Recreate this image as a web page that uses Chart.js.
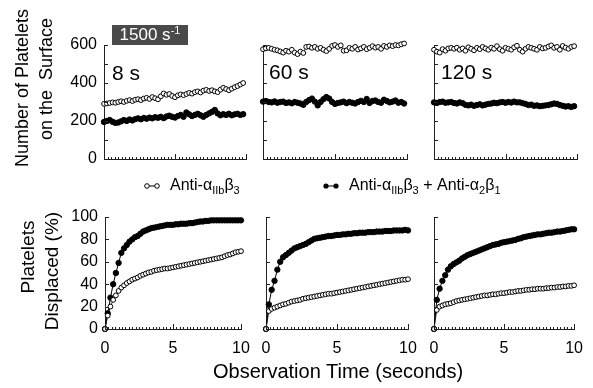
<!DOCTYPE html>
<html>
<head>
<meta charset="utf-8">
<script src="https://cdn.jsdelivr.net/npm/chart.js@4.4.0/dist/chart.umd.min.js"></script>
<style>
  html, body { margin: 0; padding: 0; background: #fff; }
  #page { position: relative; width: 593px; height: 388px; overflow: hidden; font-family: "Liberation Sans", Arial, sans-serif; color: #000; }
  #page canvas { position: absolute; left: 0; top: 0; }
  .txt { position: absolute; white-space: nowrap; z-index: 5; }
  .vt { position: absolute; white-space: nowrap; transform: translate(-50%, -50%) rotate(-90deg); z-index: 5; }
  .shear { position: absolute; left: 112px; top: 25px; width: 76px; height: 20px; background: #4a4a4a; color: #fff; font-size: 17px; line-height: 20px; text-align: center; z-index: 5; }
  .shear sup { font-size: 11px; vertical-align: 6px; line-height: 0; }
  .leg sub { font-size: 11px; vertical-align: -4px; line-height: 0; }
</style>
</head>
<body>
<div id="page">
  <canvas id="tl" width="593" height="388"></canvas>
  <canvas id="tm" width="593" height="388"></canvas>
  <canvas id="tr" width="593" height="388"></canvas>
  <canvas id="bl" width="593" height="388"></canvas>
  <canvas id="bm" width="593" height="388"></canvas>
  <canvas id="br" width="593" height="388"></canvas>

  <div class="shear">1500 s<sup>-1</sup></div>
  <div class="txt" style="left:112px; top:61px; font-size:21px;">8 s</div>
  <div class="txt" style="left:269px; top:60px; font-size:21px;">60 s</div>
  <div class="txt" style="left:441px; top:60px; font-size:21px;">120 s</div>

  <div class="vt" style="left:22px; top:88px; font-size:18px;">Number of Platelets</div>
  <div class="vt" style="left:46px; top:79px; font-size:18px;">on the&nbsp; Surface</div>
  <div class="vt" style="left:28px; top:257px; font-size:19px;">Platelets</div>
  <div class="vt" style="left:52px; top:271px; font-size:19px;">Displaced (%)</div>

  <div class="txt leg" style="left:144px; top:176px; font-size:16px;">
    <svg width="16" height="8" style="vertical-align:middle; margin-right:10px;"><line x1="3" y1="4" x2="13" y2="4" stroke="#000" stroke-width="1"/><circle cx="3" cy="4" r="2.3" fill="#fff" stroke="#000"/><circle cx="13" cy="4" r="2.3" fill="#fff" stroke="#000"/></svg>Anti-&alpha;<sub>IIb</sub>&beta;<sub>3</sub>
  </div>
  <div class="txt leg" style="left:323px; top:176px; font-size:16px;">
    <svg width="16" height="8" style="vertical-align:middle; margin-right:10px;"><line x1="3" y1="4" x2="13" y2="4" stroke="#000" stroke-width="1"/><circle cx="3" cy="4" r="2.6" fill="#000"/><circle cx="13" cy="4" r="2.6" fill="#000"/></svg>Anti-&alpha;<sub>IIb</sub>&beta;<sub>3</sub> + Anti-&alpha;<sub>2</sub>&beta;<sub>1</sub>
  </div>

  <div class="txt" style="left:338px; top:360px; font-size:20px; transform:translateX(-50%);">Observation Time (seconds)</div>
</div>

<script>
// time points (s) of the surface-count traces, upper row
const surfTimes = [0,0.2,0.4,0.6,0.8,1,1.2,1.4,1.6,1.8,2,2.2,2.4,2.6,2.8,3,3.2,3.4,3.6,3.8,
  4,4.2,4.4,4.6,4.8,5,5.2,5.4,5.6,5.8,6,6.2,6.4,6.6,6.8,7,7.2,7.4,7.6,7.8,
  8,8.2,8.4,8.6,8.8,9,9.2,9.4,9.6,9.8];

// number of platelets on the surface
const surf8Open = [290,292,295,298,296,300,304,300,306,310, 305,312,315,310,318,322,316,326,320,314,
  330,345,338,342,332,325,335,340,336,342, 348,344,352,356,350,360,364,358,362,356,
  352,365,375,368,362,370,378,384,392,400];
const surf8Filled = [195,200,205,196,190,192,198,205,200,208, 203,210,214,209,216,212,218,214,220,217,
  222,215,224,228,222,218,226,232,222,245, 235,226,232,238,230,222,232,240,248,258,
  240,230,236,232,238,230,235,238,232,236];
const surf60Open = [578,582,585,580,575,572,566,560,570,565, 575,560,552,565,558,590,592,585,590,580,
  585,575,568,580,595,600,590,598,570,572, 585,580,590,576,582,590,578,585,594,586,
  590,580,595,590,598,594,600,598,604,608];
const surf60Filled = [302,305,300,298,303,296,300,302,295,298, 293,300,296,292,285,300,310,318,302,282,
  300,315,326,318,300,290,295,298,302,294, 300,296,292,300,306,300,316,295,305,308,
  300,296,312,305,298,302,308,296,300,292];
const surf120Open = [575,565,560,578,570,582,585,580,586,575, 582,570,588,580,572,585,578,590,582,575,
  586,580,594,578,570,585,580,575,588,596, 575,565,580,590,585,580,575,590,582,585,
  592,598,585,590,575,595,586,580,590,594];
const surf120Filled = [298,295,300,302,296,298,300,295,292,298, 294,285,282,286,280,284,288,282,286,290,
  292,296,294,298,300,296,300,297,302,298, 298,294,290,284,286,280,282,278,280,282,
  284,288,292,290,284,280,276,278,274,278];

// time points (s) of the displacement traces, lower row
const dispTimes = [0,0.2,0.4,0.6,0.8,1,1.2,1.4,1.6,1.8,2,2.2,2.4,2.6,2.8,3,3.2,3.4,3.6,3.8,
  4,4.2,4.4,4.6,4.8,5,5.2,5.4,5.6,5.8,6,6.2,6.4,6.6,6.8,7,7.2,7.4,7.6,7.8,
  8,8.2,8.4,8.6,8.8,9,9.2,9.4,9.6,9.8,10];

// platelets displaced (%)
const disp8Open = [0,12,20,26,30,34,37,39,41,42.5, 44,45,46,47.5,48.5,49.5,50.5,51,52,52.5,
  53,53.5,54,54,54.5,55,55.5,56,56.5,57, 57.5,58,58.5,59,59.5,60,60.5,61,61.5,62,
  62.5,63,63.5,64,65,66,66.5,67.5,68.5,69, 69.5];
const disp8Filled = [0,14,28,40,50,59,68,72,75,78, 80,82,83,85,87,88,89,90,90.5,91,
  91.5,92,92.5,93,93,93,93.5,93.5,94,94, 94,94.5,94.5,95,95.5,96,96,96.5,96.5,97,
  97,97,97,97,97,97,97,97,97,97, 97];
const disp60Open = [0,16,18,19,20,21,22,22.5,23.5,24.5, 25,25.5,26,27,27.5,28,28.5,29,29.5,30,
  30.5,31,31.5,31.5,32,32.5,33,33.5,34,34.5, 35,35.5,36,36.5,37,37.5,38,38.5,39,39.5,
  40,40.5,41,41.5,42,42.5,43,43.5,44,44, 44.5];
const disp60Filled = [0,22,35,43,53,60,64,66,68,70, 72,73,74,75,76,77.5,79,80.5,81,81.5,
  82,82.5,83,83,83.5,84,84,84.5,84.5,85, 85,85.5,85.5,86,86,86,86.5,86.5,86.5,87,
  87,87,87.5,87.5,87.5,88,88,88,88,88.5, 88];
const disp120Open = [0,17,20,21,22,22.5,23,24,25,25.5, 26,26.5,27,27.5,28,28.5,29,29.5,30,30,
  30.5,31,31,31.5,32,32,32.5,33,33,33.5, 34,34,34.5,35,35,35.5,35.5,36,36,36,
  36.5,36.5,37,37,37.5,37.5,38,38,38.5,38.5, 39];
const disp120Filled = [0,26,36,43,48,53,56,58,59.5,61, 63,64.5,66,67,68,69,70,71,72,73,
  74,75,75.5,76,77,77.5,78,78.5,79,79.5, 80.5,81,82,82.5,83,83.5,84,84.5,84.5,85,
  85.5,86,86,86.5,87,87,87.5,88,88.5,89, 89];

const W = 593, H = 388, YW = 50, XH = 30;
const FONT = { family: "'Liberation Sans', Arial, sans-serif", size: 16 };

// small tick marks pointing into the plot, like the original figure
const inwardTicks = {
  id: 'inwardTicks',
  afterDraw(chart) {
    const { ctx, chartArea: a, scales: { x, y } } = chart;
    ctx.save();
    ctx.strokeStyle = '#222';
    ctx.lineWidth = 1;
    ctx.beginPath();
    x.ticks.forEach(t => {
      const px = Math.round(x.getPixelForValue(t.value)) + 0.5;
      const len = t.value % 5 === 0 ? 5 : 2;
      ctx.moveTo(px, a.bottom);
      ctx.lineTo(px, a.bottom - len);
    });
    y.ticks.forEach(t => {
      const py = Math.round(y.getPixelForValue(t.value)) + 0.5;
      ctx.moveTo(a.left, py);
      ctx.lineTo(a.left + 4, py);
    });
    ctx.stroke();
    ctx.restore();
  }
};

function series(times, vals, filled) {
  return {
    data: vals.map((v, i) => ({ x: times[i], y: v })),
    showLine: true,
    clip: false,
    borderColor: '#000',
    borderWidth: filled ? 1 : 0.8,
    pointRadius: filled ? 2.7 : 2.4,
    pointBorderWidth: 1,
    pointBorderColor: '#000',
    pointBackgroundColor: filled ? '#000' : '#fff'
  };
}

function panel(id, box, yMax, yStep, labelStep, showY, showX, times, open, filled) {
  const [x0, x1, y0, y1] = box;
  new Chart(document.getElementById(id), {
    type: 'scatter',
    data: { datasets: [series(times, open, false), series(times, filled, true)] },
    options: {
      responsive: false,
      animation: false,
      events: [],
      layout: { padding: { left: x0 - YW, right: W - x1, top: y0, bottom: H - y1 - XH } },
      plugins: { legend: { display: false }, tooltip: { enabled: false } },
      scales: {
        x: {
          type: 'linear', min: 0, max: 10,
          afterFit: s => { s.height = XH; },
          border: { display: true, color: '#222', width: 1 },
          grid: { display: true, drawOnChartArea: false, drawTicks: false },
          ticks: {
            stepSize: 0.25, autoSkip: false, maxRotation: 0, padding: 10,
            color: '#000', font: FONT,
            callback: v => (showX && v % 5 === 0) ? String(v) : ''
          }
        },
        y: {
          min: 0, max: yMax,
          afterFit: s => { s.width = YW; },
          border: { display: true, color: '#222', width: 1 },
          grid: { display: true, drawOnChartArea: false, drawTicks: false },
          ticks: {
            stepSize: yStep, autoSkip: false, padding: 7,
            color: '#000', font: FONT,
            callback: v => (showY && v % labelStep === 0) ? String(v) : ''
          }
        }
      }
    },
    plugins: [inwardTicks]
  });
}

panel('tl', [104, 246, 45, 159], 600, 100, 200, true, false, surfTimes, surf8Open, surf8Filled);
panel('tm', [263, 407, 45, 159], 600, 100, 200, false, false, surfTimes, surf60Open, surf60Filled);
panel('tr', [434, 577, 45, 159], 600, 100, 200, false, false, surfTimes, surf120Open, surf120Filled);
panel('bl', [105, 241, 217, 329], 100, 20, 20, true, true, dispTimes, disp8Open, disp8Filled);
panel('bm', [266, 408, 217, 329], 100, 20, 20, false, true, dispTimes, disp60Open, disp60Filled);
panel('br', [434, 578, 217, 329], 100, 20, 20, false, true, dispTimes, disp120Open, disp120Filled);
</script>
</body>
</html>
